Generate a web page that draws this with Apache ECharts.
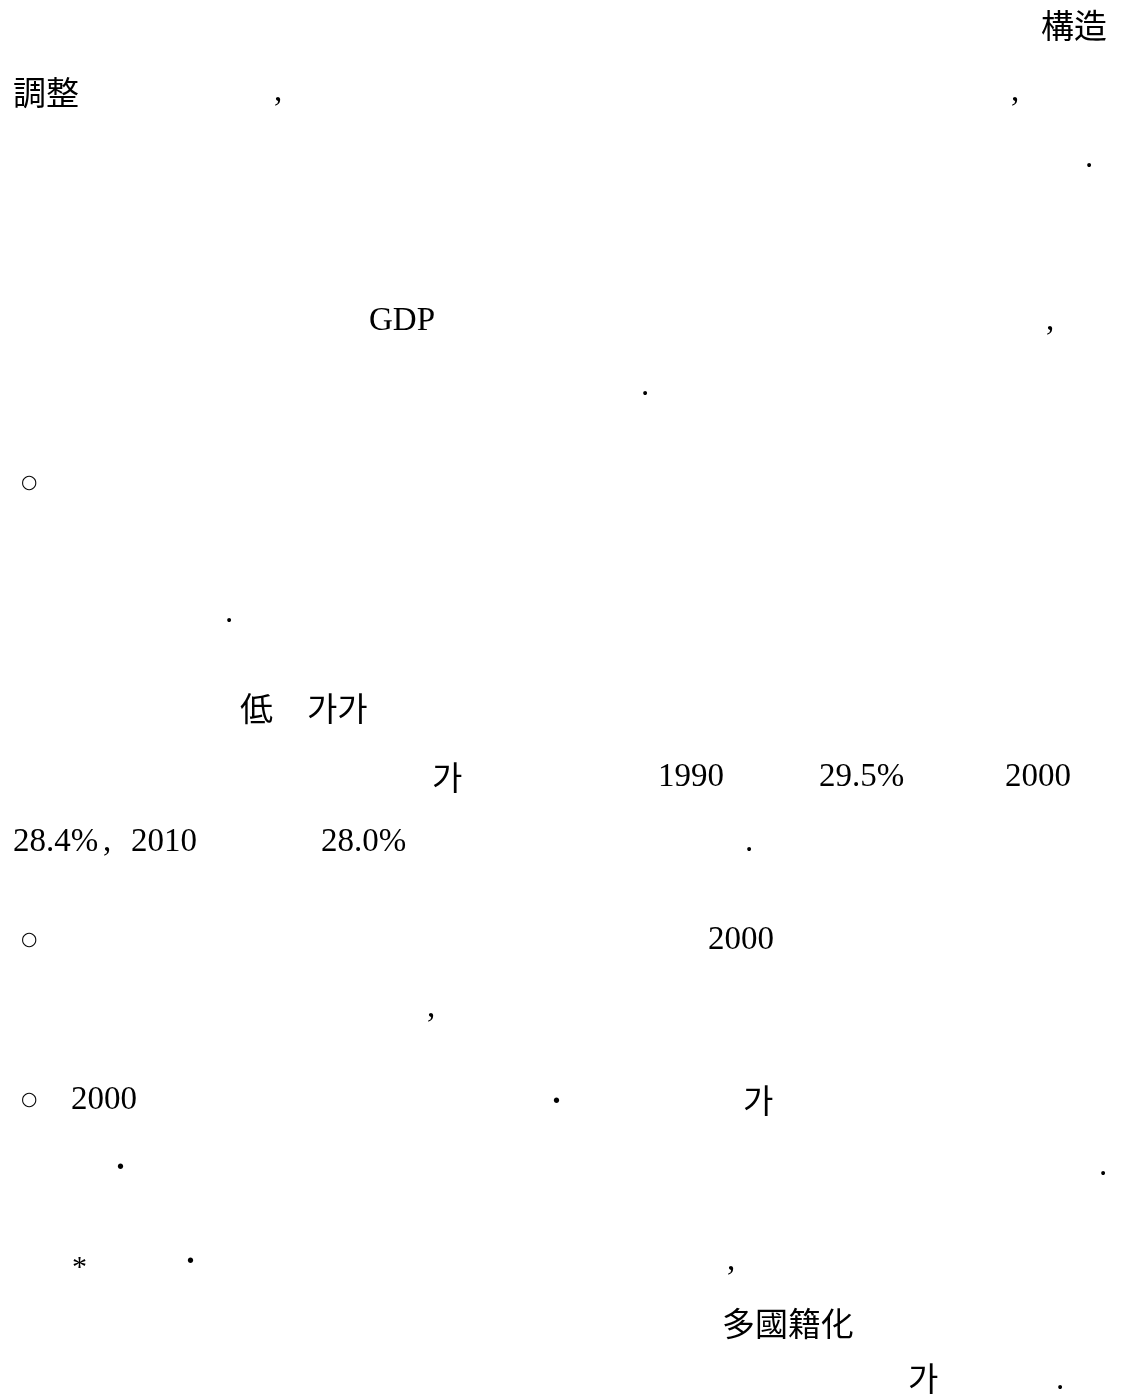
<!DOCTYPE html>
<html>
<head>
<meta charset="utf-8">
<script src="https://cdn.jsdelivr.net/npm/echarts@6/dist/echarts.min.js"></script>
<style>
html,body{margin:0;padding:0;background:#fff;}
#c{width:1122px;height:1399px;}
</style>
</head>
<body>
<div id="c"></div>
<script>
// Text fragments of the page (content)
var cjkFragments = ['構造', '調整', '低', '가가', '가', '가', '多國籍化', '가'];
var latinFragments = ['GDP', '1990', '29.5%', '2000', '28.4%', '2010', '28.0%', '2000', '2000'];
var markFragments = [',', ',', '.', ',', '.', '.', ',', '.', ',', '.', ',', '.'];
var bulletFragments = ['○', '○', '○'];
var dotFragments = ['·', '·', '·'];
var starFragments = ['*'];

// Layout (positions only): [x, y of line centre]
var cjkPos = [[1041, 25], [13, 92], [240, 708], [307, 708], [432, 777], [743, 1100], [722, 1323], [908, 1378]];
var latinPos = [[369, 321], [658, 777], [819, 777], [1005, 777], [13, 842], [131, 842], [321, 842], [708, 940], [71, 1100]];
var markPos = [[274, 92], [1011, 92], [1085, 158], [1046, 321], [641, 386], [225, 613], [103, 842], [745, 842],
               [427, 1008], [1099, 1166], [727, 1261], [1056, 1380]];
var bulletPos = [[21, 483], [21, 940], [21, 1100]];
var dotPos = [[551, 1102], [115, 1168], [185, 1262]];
var starPos = [[72, 1268]];

var chart = echarts.init(document.getElementById('c'), null, {renderer: 'canvas'});
var els = [];
function add(arr, pos, font, size, weight) {
  arr.forEach(function (t, i) {
    els.push({
      type: 'text', x: pos[i][0], y: pos[i][1],
      style: { text: t, fill: '#000', font: (weight || 'normal') + ' ' + size + 'px ' + font, verticalAlign: 'middle', align: 'left' }
    });
  });
}
add(cjkFragments, cjkPos, '"Noto Sans CJK KR"', 33);
add(latinFragments, latinPos, '"Liberation Serif"', 33);
add(markFragments, markPos, '"Liberation Serif"', 33);
add(bulletFragments, bulletPos, '"DejaVu Sans"', 19);
add(dotFragments, dotPos, '"Liberation Serif"', 33, 'bold');
add(starFragments, starPos, '"Liberation Serif"', 30);
chart.setOption({
  backgroundColor: '#ffffff',
  animation: false,
  graphic: { elements: els }
});
</script>
</body>
</html>
